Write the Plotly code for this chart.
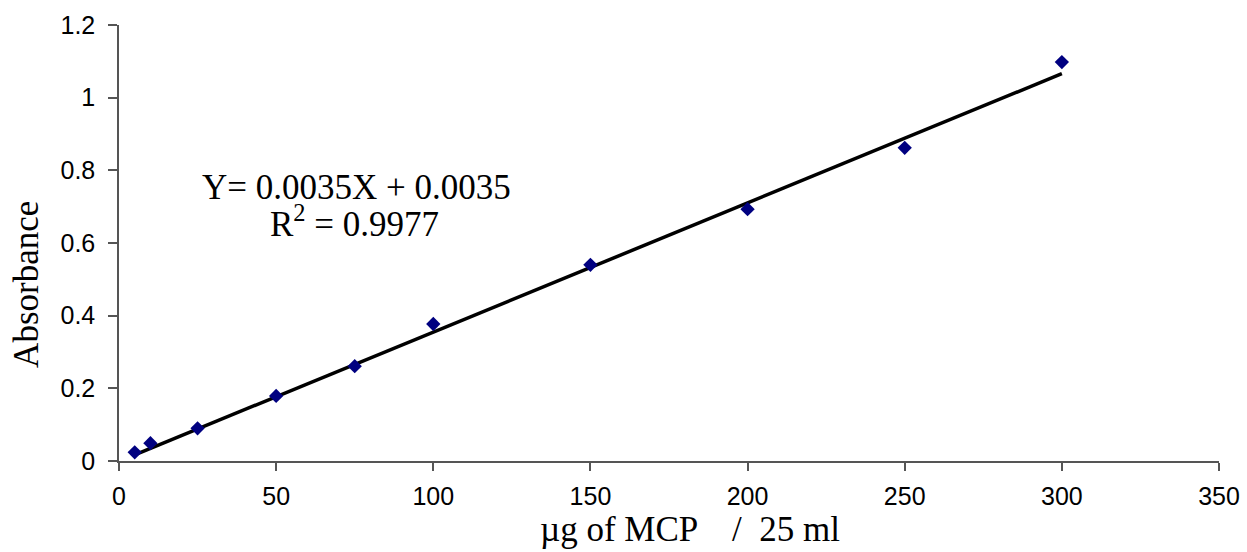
import plotly.graph_objects as go

# Data
conc_ug = [5, 10, 25, 50, 75, 100, 150, 200, 250, 300]
absorbance = [0.024, 0.049, 0.090, 0.179, 0.261, 0.377, 0.540, 0.693, 0.862, 1.098]

trend_x = [5, 300]
trend_y = [0.017, 1.066]

x_ticks = [0, 50, 100, 150, 200, 250, 300, 350]
y_ticks = [0, 0.2, 0.4, 0.6, 0.8, 1, 1.2]
y_tick_labels = ["0", "0.2", "0.4", "0.6", "0.8", "1", "1.2"]

fig = go.Figure()
fig.add_trace(go.Scatter(
    x=trend_x, y=trend_y, mode="lines",
    line=dict(color="black", width=3.5), showlegend=False, hoverinfo="skip"))
fig.add_trace(go.Scatter(
    x=conc_ug, y=absorbance, mode="markers",
    marker=dict(symbol="diamond", size=11, color="#000080"),
    showlegend=False))

serif = "Liberation Serif"
sans = "Liberation Sans"

fig.update_layout(
    width=1247, height=552,
    margin=dict(l=119, r=28, t=25, b=91, autoexpand=False),
    paper_bgcolor="white", plot_bgcolor="white",
    xaxis=dict(range=[0, 350], tickvals=x_ticks, showgrid=False, zeroline=False,
               automargin=False,
               showline=True, linecolor="#555", linewidth=1.5,
               ticks="outside", ticklen=8, tickcolor="#555", tickwidth=1.5,
               ticklabelstandoff=4,
               tickfont=dict(family=sans, size=25, color="black")),
    yaxis=dict(range=[0, 1.2], tickvals=y_ticks, ticktext=y_tick_labels,
               showgrid=False, zeroline=False, automargin=False,
               showline=True, linecolor="#555", linewidth=1.5,
               ticks="outside", ticklen=9, tickcolor="#555", tickwidth=1.5,
               ticklabelstandoff=8,
               tickfont=dict(family=sans, size=25, color="black")),
    annotations=[
        dict(text="Absorbance", xref="paper", yref="paper", x=-0.0836, y=0.404,
             xanchor="center", yanchor="middle",
             textangle=-90, showarrow=False,
             font=dict(family=serif, size=35, color="black")),
        dict(text="µg of MCP    /  25 ml", xref="paper", yref="paper", x=0.519, y=-0.158,
             xanchor="center", yanchor="middle",
             showarrow=False, font=dict(family=serif, size=35, color="black")),
        dict(text="Y= 0.0035X + 0.0035", xref="x", yref="y", x=75.7, y=0.754,
             xanchor="center", yanchor="middle",
             showarrow=False, font=dict(family=serif, size=35, color="black")),
        dict(text="R<sup>2</sup> = 0.9977", xref="x", yref="y", x=74.8, y=0.658,
             xanchor="center", yanchor="middle",
             showarrow=False, font=dict(family=serif, size=35, color="black")),
    ],
)

fig.write_html("out.html", config={"displayModeBar": False},
               post_script="document.body.style.margin='0';")
